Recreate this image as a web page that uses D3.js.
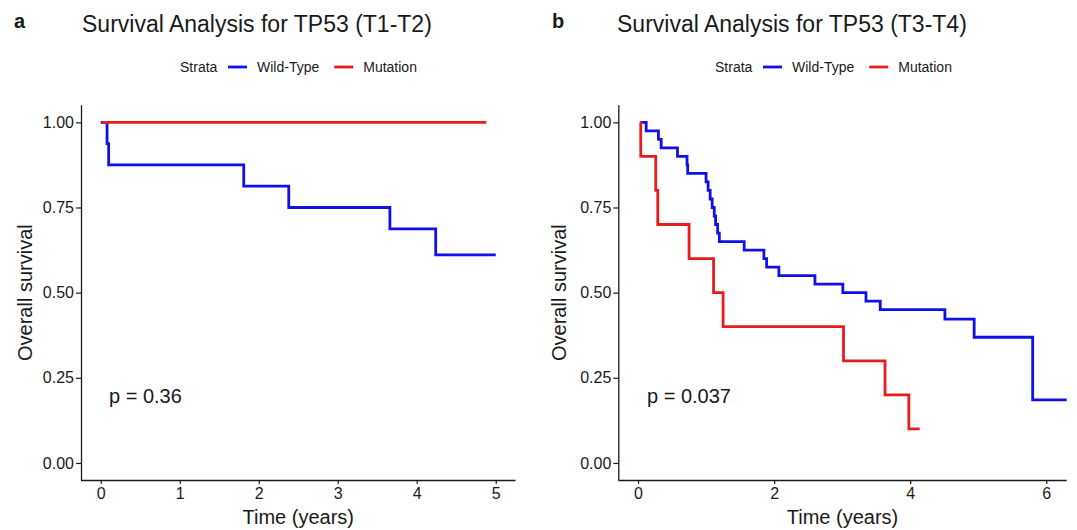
<!DOCTYPE html>
<html>
<head>
<meta charset="utf-8">
<script src="https://cdn.jsdelivr.net/npm/d3@7"></script>
<style>
  body { margin: 0; background: #fff; }
  svg text { font-family: "Liberation Sans", Arial, sans-serif; fill: #1a1a1a; }
</style>
</head>
<body>
<svg id="chart" width="1077" height="530"></svg>
<script>
// panel a: T1-T2
const aWildTime = [0, 0.08, 0.10, 1.81, 2.38, 3.66, 4.24, 5.00];
const aWildSurv = [1.00, 0.9375, 0.875, 0.8125, 0.75, 0.6875, 0.611, 0.611];
const aMutTime = [0.01, 4.88];
const aMutSurv = [1.00, 1.00];

// panel b: T3-T4
const bWildTime = [0.03, 0.12, 0.30, 0.34, 0.58, 0.72, 0.73, 1.00, 1.03, 1.06, 1.09, 1.12, 1.14, 1.17, 1.195,
  1.56, 1.85, 1.89, 2.07, 2.60, 3.01, 3.35, 3.56, 4.51, 4.94, 5.80, 6.30];
const bWildSurv = [1.00, 0.975, 0.95, 0.925, 0.90, 0.875, 0.85, 0.825, 0.80, 0.775, 0.75, 0.725, 0.70, 0.675, 0.65,
  0.625, 0.60, 0.575, 0.55, 0.525, 0.50, 0.475, 0.45, 0.422, 0.369, 0.185, 0.185];
const bMutTime = [0.03, 0.04, 0.26, 0.29, 0.75, 1.11, 1.25, 3.02, 3.63, 3.98, 4.14];
const bMutSurv = [1.00, 0.90, 0.80, 0.70, 0.60, 0.50, 0.40, 0.30, 0.20, 0.10, 0.10];

const yTicks = [0, 0.25, 0.5, 0.75, 1];
const legendLabels = ["Wild-Type", "Mutation"];
const colors = ["#1010e8", "#e81c1c"];

const panels = [
  { tag: "a", title: "Survival Analysis for TP53 (T1-T2)", p: "p = 0.36",
    xDomain: [-0.25, 5.25], xTicks: [0, 1, 2, 3, 4, 5],
    left: 81, right: 515.5, labelX: 25, tagX: 14, titleX: 82, legendX: 180, pX: 109,
    series: [[aWildTime, aWildSurv], [aMutTime, aMutSurv]] },
  { tag: "b", title: "Survival Analysis for TP53 (T3-T4)", p: "p = 0.037",
    xDomain: [-0.29, 6.3], xTicks: [0, 2, 4, 6],
    left: 618.3, right: 1066.7, labelX: 559, tagX: 552, titleX: 617, legendX: 715, pX: 647,
    series: [[bWildTime, bWildSurv], [bMutTime, bMutSurv]] }
];

const plotTop = 105.3, plotBottom = 480;
const svg = d3.select("#chart");

panels.forEach(function (pn) {
  const x = d3.scaleLinear().domain(pn.xDomain).range([pn.left, pn.right]);
  const y = d3.scaleLinear().domain([-0.05, 1.05]).range([plotBottom, plotTop]);
  const g = svg.append("g");

  g.append("text").attr("x", pn.tagX).attr("y", 28)
    .style("font-weight", "bold").style("font-size", "20px").text(pn.tag);
  g.append("text").attr("x", pn.titleX).attr("y", 32)
    .style("font-size", "23px").text(pn.title);

  // legend
  const lg = g.append("g").attr("transform", "translate(" + pn.legendX + ",72)");
  lg.append("text").attr("x", 0).attr("y", 0).style("font-size", "14px").text("Strata");
  let lx = 48;
  legendLabels.forEach(function (lab, i) {
    lg.append("line").attr("x1", lx).attr("x2", lx + 19).attr("y1", -5).attr("y2", -5)
      .attr("stroke", colors[i]).attr("stroke-width", 2.8);
    const t = lg.append("text").attr("x", lx + 29).attr("y", 0).style("font-size", "14px").text(lab);
    lx += 29 + t.node().getComputedTextLength() + 15;
  });

  // axes
  const ya = g.append("g").attr("transform", "translate(" + pn.left + ",0)")
    .call(d3.axisLeft(y).tickValues(yTicks).tickFormat(d3.format(".2f")).tickSizeOuter(0).tickSize(5).tickPadding(2));
  const xa = g.append("g").attr("transform", "translate(0," + plotBottom + ")")
    .call(d3.axisBottom(x).tickValues(pn.xTicks).tickFormat(d3.format("d")).tickSizeOuter(0).tickSize(4).tickPadding(4));
  [ya, xa].forEach(function (a) {
    a.select(".domain").attr("stroke", "#1a1a1a").attr("stroke-width", 1.3);
    a.selectAll(".tick line").attr("stroke", "#1a1a1a").attr("stroke-width", 1.2);
    a.selectAll(".tick text").style("font-size", "16px").attr("fill", "#333");
  });
  ya.select(".domain").attr("d", "M0.5," + plotTop + "V" + plotBottom);
  xa.select(".domain").attr("d", "M" + pn.left + ",0.5H" + pn.right);

  g.append("text").attr("transform", "translate(" + pn.labelX + "," + ((plotTop + plotBottom) / 2) + ") rotate(-90)")
    .attr("text-anchor", "middle").attr("dy", "0.35em").style("font-size", "20px").text("Overall survival");
  g.append("text").attr("x", (pn.left + pn.right) / 2).attr("y", 524)
    .attr("text-anchor", "middle").style("font-size", "20px").text("Time (years)");

  // curves
  const line = d3.line().curve(d3.curveStepAfter).x(function (d) { return x(d[0]); }).y(function (d) { return y(d[1]); });
  pn.series.forEach(function (s, i) {
    const pts = d3.zip(s[0], s[1]);
    g.append("path").attr("d", line(pts)).attr("fill", "none")
      .attr("stroke", colors[i]).attr("stroke-width", 2.8);
  });

  g.append("text").attr("x", pn.pX).attr("y", 403).style("font-size", "20px").text(pn.p);
});
</script>
</body>
</html>
